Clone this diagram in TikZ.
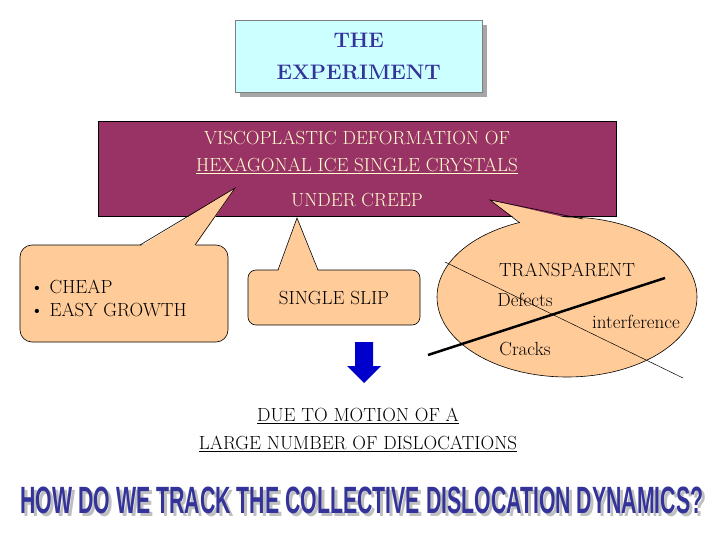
\documentclass[tikz,border=0pt]{standalone}
\usepackage{fontspec}
\newfontfamily\headfont{Liberation Sans}
\usetikzlibrary{shapes.geometric}
\definecolor{plum}{HTML}{993366}
\definecolor{peach}{HTML}{FFCC99}
\definecolor{lightcy}{HTML}{CCFFFF}
\definecolor{cream}{HTML}{FFFFCC}
\definecolor{navy}{HTML}{333399}
\tikzset{x=1pt,y=-1pt,
 callout/.style={fill=peach,draw=black,line width=0.6pt},
 txt/.style={font=\rmfamily\fontsize{19}{23}\selectfont,inner sep=0pt}}
\begin{document}
\begin{tikzpicture}
\useasboundingbox (0,0) rectangle (720,540);
% title
\fill[gray!70] (240,25) rectangle (487,97);
\node[draw=gray,fill=lightcy,minimum width=247pt,minimum height=72pt,anchor=north west,inner sep=0pt,align=center,font=\rmfamily\bfseries\fontsize{21}{32}\selectfont,text=navy] (title) at (235,20) {THE\\EXPERIMENT};
% purple
\node[fill=plum,draw=black,minimum width=518pt,minimum height=95pt,anchor=north west,inner sep=0pt] (main) at (98,121) {};
\node[txt,text=cream] (l1) at (357,138) {VISCOPLASTIC DEFORMATION OF};
\node[txt,text=cream] (l2) at (357,166) {\underline{HEXAGONAL ICE SINGLE CRYSTALS}};
\node[txt,text=cream] (l3) at (357,200) {UNDER CREEP};
% callout 1
\draw[callout,rounded corners=12pt] (20,245) rectangle (228,342);
\fill[peach] (140,246.5) -- (235,188) -- (195,246.5) -- cycle;
\draw[line width=0.6pt] (140,245) -- (235,188) -- (195,245);
\node[txt,anchor=west,align=left] (c1) at (30,298) {• CHEAP\\• EASY GROWTH};
% callout 2
\draw[callout,rounded corners=8pt] (248,270) rectangle (420,325);
\fill[peach] (278,271.5) -- (297,218) -- (318,271.5) -- cycle;
\draw[line width=0.6pt] (278,270) -- (297,218) -- (318,270);
\node[txt] (c2) at (334,298) {SINGLE SLIP};
% ellipse callout
\node[ellipse,callout,minimum width=260pt,minimum height=160pt] (ell) at (567,297) {};
\fill[peach] (520,222) -- (490,200) -- (585,222) -- (585,232) -- (520,232) -- cycle;
\draw[line width=0.6pt] (520,223) -- (490,200) -- (583,219);
\node[txt] (t1) at (567,270) {TRANSPARENT};
\node[txt] (t2) at (525,300) {Defects};
\node[txt] (t3) at (636,322) {interference};
\node[txt] (t4) at (525,349) {Cracks};
\coordinate (a1) at (428,355); \coordinate (a2) at (665,278);
\coordinate (b1) at (445,262); \coordinate (b2) at (683,378);
\draw[line width=2.5pt] (a1) -- (a2);
\draw[line width=0.5pt] (b1) -- (b2);
% arrow
\fill[blue!80!black] (355,342) -- (373,342) -- (373,366) -- (381,366) -- (364,383) -- (347,366) -- (355,366) -- cycle;
% due to
\node[txt,align=center] (due) at (358,430) {\underline{DUE TO MOTION OF A}\\[5pt]\underline{LARGE NUMBER OF DISLOCATIONS}};
% bottom
\node[font=\headfont\bfseries\fontsize{38}{38}\selectfont,text=gray!50,xscale=0.56,inner sep=0pt] (qs) at (365,503) {HOW DO WE TRACK THE COLLECTIVE DISLOCATION DYNAMICS?};
\node[font=\headfont\bfseries\fontsize{38}{38}\selectfont,text=navy,xscale=0.56,inner sep=0pt] (q) at (362,500) {HOW DO WE TRACK THE COLLECTIVE DISLOCATION DYNAMICS?};
\end{tikzpicture}
\end{document}
